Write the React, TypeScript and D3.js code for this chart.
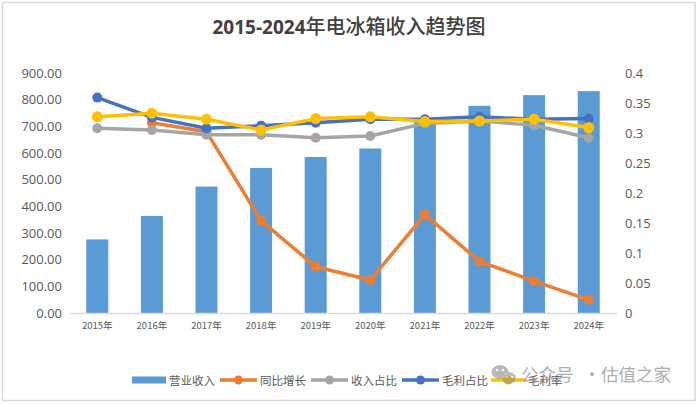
import React from "react";
import * as d3 from "d3";

const years = ["2015年", "2016年", "2017年", "2018年", "2019年", "2020年", "2021年", "2022年", "2023年", "2024年"];
const revenue = [276, 364, 474, 544, 585, 617, 725, 777, 817, 832];
const yoyGrowth: (number | null)[] = [null, 0.317, 0.302, 0.154, 0.077, 0.055, 0.164, 0.086, 0.053, 0.022];
const revenueShare = [0.308, 0.305, 0.297, 0.297, 0.292, 0.295, 0.316, 0.32, 0.313, 0.292];
const grossProfitShare = [0.359, 0.326, 0.308, 0.312, 0.317, 0.323, 0.323, 0.327, 0.323, 0.324];
const grossMargin = [0.327, 0.333, 0.323, 0.305, 0.324, 0.327, 0.319, 0.32, 0.323, 0.309];
const leftTicks = [0, 100, 200, 300, 400, 500, 600, 700, 800, 900];
const rightTicks = [0, 0.05, 0.1, 0.15, 0.2, 0.25, 0.3, 0.35, 0.4];

const W = 700;
const H = 404;
const plot = { left: 70, right: 616, top: 73, bottom: 313 };
const numFont = "'Open Sans', 'Noto Sans', sans-serif";
const cjkFont = "'Noto Sans CJK SC', 'Noto Sans', sans-serif";

const x = d3.scaleBand<string>().domain(years).range([plot.left, plot.right]).padding(0);
const yL = d3.scaleLinear().domain([0, 900]).range([plot.bottom, plot.top]);
const yR = d3.scaleLinear().domain([0, 0.4]).range([plot.bottom, plot.top]);
const cx = (i: number) => (x(years[i]) as number) + x.bandwidth() / 2;

const lineSeries = [
  { name: "同比增长", data: yoyGrowth, color: "#ED7D31", r: 5 },
  { name: "收入占比", data: revenueShare, color: "#A5A5A5", r: 5 },
  { name: "毛利占比", data: grossProfitShare, color: "#4472C4", r: 5 },
  { name: "毛利率", data: grossMargin, color: "#FFC000", r: 5.5 },
];

const legendItems = [
  { name: "营业收入", type: "bar", color: "#5B9BD5", x0: 132, x1: 166 },
  { name: "同比增长", type: "line", color: "#ED7D31", x0: 220, x1: 257 },
  { name: "收入占比", type: "line", color: "#A5A5A5", x0: 311, x1: 348 },
  { name: "毛利占比", type: "line", color: "#4472C4", x0: 402, x1: 439 },
  { name: "毛利率", type: "line", color: "#FFC000", x0: 491, x1: 525 },
];

export default function App() {
  const fmtL = d3.format(".2f");
  const fmtR = d3.format("~g");
  const barW = 22;
  const line = d3
    .line<[number, number | null]>()
    .defined((d) => d[1] !== null)
    .x((d) => cx(d[0]))
    .y((d) => yR(d[1] as number));

  return (
    <svg width={W} height={H} style={{ position: "absolute", left: 0, top: 0, background: "#fff" }}>
      <rect x={0} y={0} width={W} height={H} fill="#fff" />
      <rect x={2.5} y={2.5} width={692.5} height={398} fill="none" stroke="#d9d9d9" strokeWidth={1.5} />

      <text x={349} y={34} textAnchor="middle" fill="#404040">
        <tspan fontFamily={numFont} fontWeight="bold" fontSize={19}>2015-2024</tspan>
        <tspan fontFamily={cjkFont} fontWeight={500} fontSize={20}>年电冰箱收入趋势图</tspan>
      </text>

      {leftTicks.map((t) => (
        <text key={"l" + t} x={62} y={yL(t)} dy="0.35em" textAnchor="end" fontFamily={numFont} fontSize={13} fill="#595959">
          {fmtL(t)}
        </text>
      ))}
      {rightTicks.map((t) => (
        <text key={"r" + t} x={625} y={yR(t)} dy="0.35em" textAnchor="start" fontFamily={numFont} fontSize={13} fill="#595959">
          {fmtR(t)}
        </text>
      ))}

      {revenue.map((v, i) => (
        <rect key={"b" + i} x={cx(i) - barW / 2} y={yL(v)} width={barW} height={yL(0) - yL(v)} fill="#5B9BD5" />
      ))}

      <line x1={plot.left} x2={plot.right + 1} y1={plot.bottom + 0.5} y2={plot.bottom + 0.5} stroke="#d9d9d9" strokeWidth={1.5} />

      {years.map((yr, i) => (
        <text key={"x" + i} x={cx(i)} y={329} textAnchor="middle" fontFamily={cjkFont} fontSize={9.5} fill="#595959">
          {yr}
        </text>
      ))}

      {lineSeries.map((s) => {
        const pts = s.data.map((v, i) => [i, v] as [number, number | null]);
        return (
          <g key={s.name}>
            <path d={line(pts) || ""} fill="none" stroke={s.color} strokeWidth={3.5} strokeLinejoin="round" strokeLinecap="round" />
            {pts
              .filter((p) => p[1] !== null)
              .map((p) => (
                <circle key={p[0]} cx={cx(p[0])} cy={yR(p[1] as number)} r={s.r} fill={s.color} />
              ))}
          </g>
        );
      })}

      {legendItems.map((it) => (
        <g key={it.name}>
          {it.type === "bar" ? (
            <rect x={it.x0} y={376.5} width={it.x1 - it.x0} height={7} fill={it.color} />
          ) : (
            <g>
              <line x1={it.x0} x2={it.x1} y1={380} y2={380} stroke={it.color} strokeWidth={3.5} />
              <circle cx={(it.x0 + it.x1) / 2} cy={380} r={4.5} fill={it.color} />
            </g>
          )}
          <text x={it.x1 + 3} y={384.5} fontFamily={cjkFont} fontSize={11.5} fill="#595959">
            {it.name}
          </text>
        </g>
      ))}

      <g opacity={0.55}>
        <ellipse cx={500} cy={372} rx={8.5} ry={7} fill="#7f7f7f" />
        <ellipse cx={509} cy={378} rx={7} ry={6} fill="#8c8c8c" />
        <circle cx={497} cy={370} r={1.3} fill="#fff" />
        <circle cx={503} cy={370} r={1.3} fill="#fff" />
        <circle cx={507} cy={377} r={1} fill="#fff" />
        <circle cx={512} cy={377} r={1} fill="#fff" />
      </g>
      <g fontFamily={cjkFont} fontSize={17.5} fill="#9a9a9a" opacity={0.8}>
        <text x={521} y={381}>公众号</text>
        <text x={592} y={381} textAnchor="middle">·</text>
        <text x={601} y={381}>估值之家</text>
      </g>
    </svg>
  );
}
